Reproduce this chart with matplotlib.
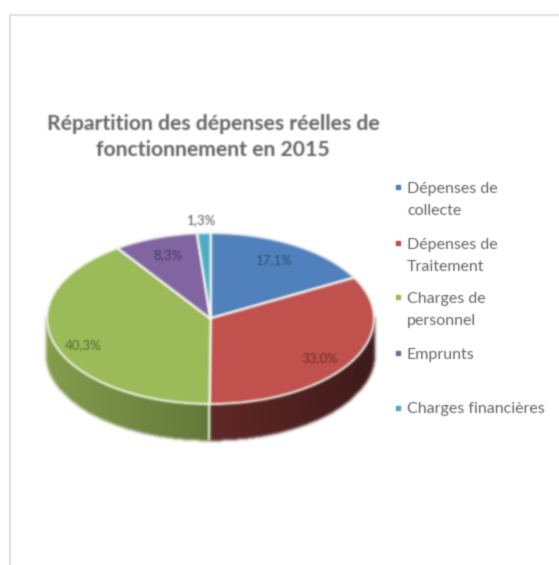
import numpy as np
import matplotlib
matplotlib.use("Agg")
import matplotlib.pyplot as plt
from matplotlib.lines import Line2D
from matplotlib.collections import PolyCollection

W, H = 559, 565

# ---- data ----
categories = ["Dépenses de\ncollecte", "Dépenses de\nTraitement", "Charges de\npersonnel",
              "Emprunts", "Charges financières"]
values = [17.1, 33.0, 40.3, 8.3, 1.3]
value_labels = ["17,1%", "33,0%", "40,3%", "8,3%", "1,3%"]
title = "Répartition des dépenses réelles de\nfonctionnement en 2015"

# ---- styles and layout ----
colors = ["#4f81bd", "#c0504d", "#9bbb59", "#8064a2", "#4bacc6"]
label_px = [(274, 260), (320, 358), (83, 345), (168, 255), (201, 220)]
label_col = ["#2f4d72", "#6e2f2d", "#56692f", "#4a3a5e", "#595959"]
legend_y = [187, 243, 297, 353, 408]
CX, CY, RX, RY, DEPTH = 210.5, 318.5, 163.5, 85.5, 35.5


def gaussian(sigma):
    r = int(3 * sigma) + 1
    k = np.exp(-0.5 * (np.arange(-r, r + 1) / sigma) ** 2)
    k /= k.sum()
    pad = r + 2

    def flt(img, dpi):
        a = np.pad(img, ((pad, pad), (pad, pad), (0, 0))).copy()
        # premultiply so transparent surroundings fade out properly
        a[..., :3] *= a[..., 3:]
        for ax_ in (0, 1):
            a = np.apply_along_axis(lambda m: np.convolve(m, k, mode="same"), ax_, a)
        al = np.clip(a[..., 3:], 1e-6, 1)
        a[..., :3] = np.clip(a[..., :3] / al, 0, 1)
        return a, -pad, -pad
    return flt


def fx(x):
    return x / W


def fy(y):
    return 1 - y / H


plt.rcParams["font.family"] = ["Lato", "DejaVu Sans"]
fig = plt.figure(figsize=(W / 100, H / 100), dpi=100, facecolor="white")

# axes scaled so one data unit is RX px horizontally and RY px vertically
xm, ytop, ybot = 1.2, 1.2, 1.7
ax = fig.add_axes([fx(CX - xm * RX), fy(CY + ybot * RY), 2 * xm * RX / W, (ytop + ybot) * RY / H])
wedges, _ = ax.pie(values, colors=colors, startangle=90, counterclock=False, radius=1,
                   wedgeprops=dict(edgecolor="#f4f6ee", linewidth=1.4), frame=False)
ax.set_aspect("auto")
ax.set_xlim(-xm, xm)
ax.set_ylim(-ybot, ytop)
ax.set_axis_off()

# extruded side of the pie, derived from the same values
depth = DEPTH / RY
fracs = np.array(values) / np.sum(values)
edges = 90 - 360 * np.concatenate([[0], np.cumsum(fracs)])
polys, poly_cols = [], []
for i, col in enumerate(colors):
    a0, a1 = edges[i + 1], edges[i]   # math degrees, a0 < a1
    lo, hi = max(a0, -180.0), min(a1, 0.0)
    if hi <= lo:
        continue
    th = np.radians(np.linspace(lo, hi, 70))
    base = np.array(matplotlib.colors.to_rgb(col))
    for t0, t1 in zip(th[:-1], th[1:]):
        xc = (np.cos(t0) + np.cos(t1)) / 2
        shade = 0.84 - 0.2 * (xc + 1) if xc < 0 else 0.50 - 0.18 * xc
        polys.append([(np.cos(t0), np.sin(t0)), (np.cos(t1), np.sin(t1)),
                      (np.cos(t1), np.sin(t1) - depth), (np.cos(t0), np.sin(t0) - depth)])
        poly_cols.append(base * shade)
    if lo == edges[i + 1] and lo > -180:
        ax.plot([np.cos(np.radians(lo))] * 2,
                [np.sin(np.radians(lo)), np.sin(np.radians(lo)) - depth],
                color="#f4f6ee", lw=1.4, zorder=0.6)
ax.add_collection(PolyCollection(polys, facecolors=poly_cols, edgecolors=poly_cols,
                                 linewidths=1.0, antialiaseds=False, zorder=0.5))

# frame of the original screenshot
frame = Line2D([fx(10), fx(10), fx(W)], [fy(H), fy(15), fy(15)], transform=fig.transFigure,
               color="#dedede", lw=1.4)
frame.set_agg_filter(gaussian(0.6))
fig.add_artist(frame)

blur = gaussian(1.1)
for p in list(ax.patches) + list(ax.collections) + list(ax.lines):
    p.set_agg_filter(blur)

t = fig.text(fx(213), fy(137), title, ha="center", va="center", fontsize=15.2, color="#666666",
             linespacing=1.42, fontweight="bold")
t.set_agg_filter(gaussian(0.8))

for (x, y), s, c in zip(label_px, value_labels, label_col):
    tx = fig.text(fx(x), fy(y), s, ha="center", va="center", fontsize=9.5, color=c)
    tx.set_agg_filter(gaussian(0.8))

for name, y, col in zip(categories, legend_y, colors):
    m = Line2D([fx(398)], [fy(y)], transform=fig.transFigure, marker="s", ms=3.5, color=col, ls="none")
    m.set_agg_filter(gaussian(0.6))
    fig.add_artist(m)
    tx = fig.text(fx(407), fy(y - 5.5), name, ha="left", va="top", fontsize=11.5, color="#666666",
                  linespacing=1.8)
    tx.set_agg_filter(gaussian(0.6))

fig.savefig("out.png", dpi=100, facecolor="white")
